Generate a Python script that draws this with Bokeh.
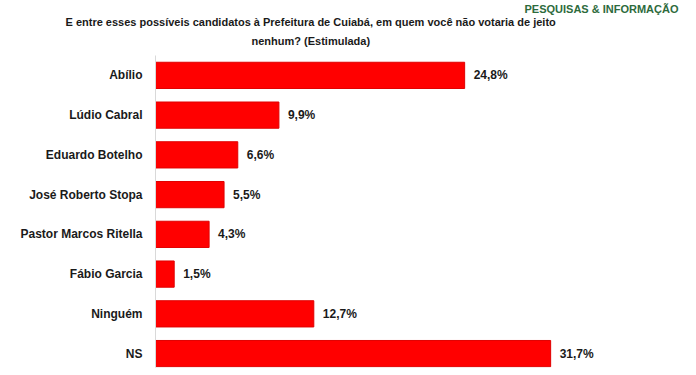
from bokeh.plotting import figure
from bokeh.models import Range1d, FixedTicker, Title, ColumnDataSource
from bokeh.core.properties import value
from bokeh.embed import file_html
from bokeh.resources import INLINE

categories = ["Abílio", "Lúdio Cabral", "Eduardo Botelho", "José Roberto Stopa",
              "Pastor Marcos Ritella", "Fábio Garcia", "Ninguém", "NS"]
values = [24.8, 9.9, 6.6, 5.5, 4.3, 1.5, 12.7, 31.7]
value_labels = ["24,8%", "9,9%", "6,6%", "5,5%", "4,3%", "1,5%", "12,7%", "31,7%"]
title_line1 = "E entre esses possíveis candidatos à Prefeitura de Cuiabá, em quem você não votaria de jeito"
title_line2 = "nenhum? (Estimulada)"
logo_text = "PESQUISAS & INFORMAÇÃO"

FONT = "Liberation Sans"

pos = list(range(len(categories)))
src = ColumnDataSource(dict(y=pos, v=values, lab=value_labels))

p = figure(width=696, height=375, output_backend="svg", toolbar_location=None,
           x_range=Range1d(0, 43.4), y_range=Range1d(7.35, -0.5),
           min_border_left=155, min_border_right=0, min_border_top=55,
           min_border_bottom=8)
p.outline_line_color = None
p.xgrid.visible = False
p.ygrid.visible = False
p.xaxis.visible = False

p.hbar(y="y", right="v", left=0, height=0.66, source=src,
       fill_color="#ff0000", line_color="#e00000", line_width=1)
p.text(x="v", y="y", text="lab", source=src, x_offset=9,
       text_font=value(FONT), text_font_style="bold", text_font_size="12px",
       text_color="#1a1a1a", text_baseline="middle", text_align="left")

ax = p.yaxis[0]
ax.ticker = FixedTicker(ticks=pos)
ax.major_label_overrides = {i: c for i, c in enumerate(categories)}
ax.major_tick_line_color = None
ax.minor_tick_line_color = None
ax.major_tick_out = 0
ax.major_label_standoff = 13
ax.axis_line_color = "#d9d9d9"
ax.major_label_text_font = FONT
ax.major_label_text_font_style = "bold"
ax.major_label_text_font_size = "12px"
ax.major_label_text_color = "#1a1a1a"

# titles: first added sits nearest the plot frame
p.add_layout(Title(text=title_line2, align="left", offset=96, standoff=18,
                   text_font=FONT, text_font_style="bold", text_font_size="11px",
                   text_color="#1a1a1a"), "above")
p.add_layout(Title(text=title_line1, align="left", offset=-90, standoff=-8,
                   text_font=FONT, text_font_style="bold", text_font_size="11px",
                   text_color="#1a1a1a"), "above")
p.add_layout(Title(text=logo_text, align="right", offset=18, standoff=2,
                   vertical_align="top",
                   text_font=FONT, text_font_style="bold", text_font_size="11px",
                   text_color="#2d6b3c"), "above")

open("out.html", "w").write(file_html(p, INLINE))
